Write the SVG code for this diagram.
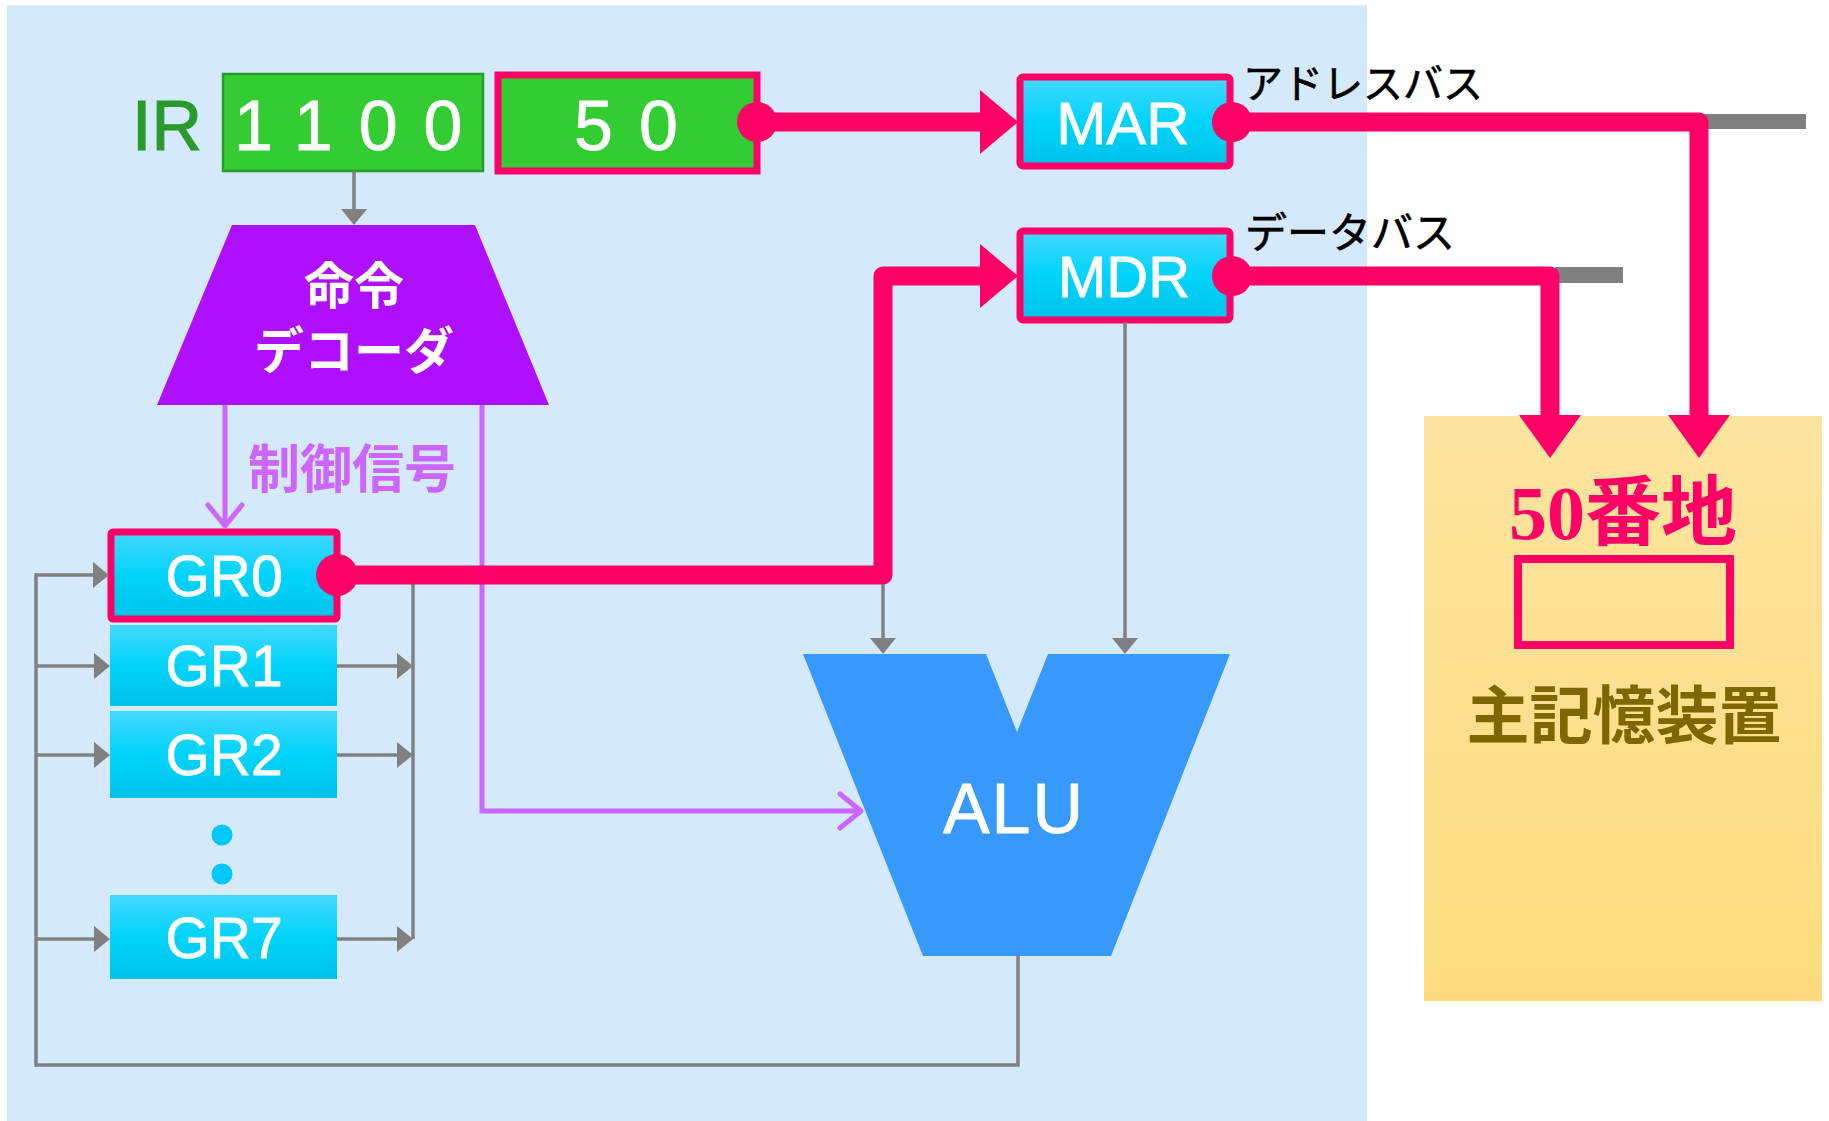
<svg xmlns="http://www.w3.org/2000/svg" width="1829" height="1121" viewBox="0 0 1829 1121">
<defs>
<linearGradient id="cyan" x1="0" y1="0" x2="0" y2="1">
<stop offset="0" stop-color="#45d8ff"/><stop offset="0.5" stop-color="#00d4fa"/><stop offset="1" stop-color="#00c2ea"/>
</linearGradient>
<linearGradient id="gold" x1="0" y1="0" x2="0" y2="1">
<stop offset="0" stop-color="#fde49f"/><stop offset="1" stop-color="#fddb7d"/>
</linearGradient>
<marker id="ga" viewBox="0 0 16 26" refX="0" refY="13" markerWidth="16" markerHeight="26" markerUnits="userSpaceOnUse" orient="auto"><path d="M0,0 L16,13 L0,26 z" fill="#808080"/></marker>
<marker id="ra" viewBox="0 0 38 64" refX="0" refY="32" markerWidth="38" markerHeight="64" markerUnits="userSpaceOnUse" orient="auto"><path d="M0,0 L38,32 L0,64 z" fill="#ff0066"/></marker>
<marker id="rd" viewBox="0 0 43 62" refX="0" refY="31" markerWidth="43" markerHeight="62" markerUnits="userSpaceOnUse" orient="auto"><path d="M0,0 L43,31 L0,62 z" fill="#ff0066"/></marker>
<marker id="pa" viewBox="-26 -22 30 44" refX="0" refY="0" markerWidth="30" markerHeight="44" markerUnits="userSpaceOnUse" orient="auto"><path d="M-21,-17 L0,0 L-21,17" fill="none" stroke="#cc66ff" stroke-width="5" stroke-linecap="round" stroke-linejoin="round"/></marker>
</defs>
<style>
.lat{font-family:"Liberation Sans",Arial,sans-serif;fill:#fff;stroke:#fff;stroke-width:0.8}
.jp{font-family:"Noto Sans CJK JP",sans-serif}
.reg{fill:url(#cyan)}
.red{stroke:#ff0066;stroke-width:7}
.gl{fill:none;stroke:#808080;stroke-width:3.5}
.rl{fill:none;stroke:#ff0066;stroke-width:19;stroke-linejoin:round}
.pl{fill:none;stroke:#cc66ff;stroke-width:5}
.dot{fill:#ff0066}
</style>
<rect id="bg" x="7" y="5" width="1360" height="1116" fill="#d5e9fc"/>

<g id="ir">
<text x="132" y="150" font-size="70" style="font-family:'Liberation Sans',Arial,sans-serif" fill="#2a9a2a" stroke="#2a9a2a" stroke-width="1.2">IR</text>
</g>
<g id="ir-op">
<rect x="223" y="74" width="260" height="97" fill="#33cc33" stroke="#2a9a2a" stroke-width="2.5"/>
<text class="lat" x="234" y="150" font-size="70" letter-spacing="26">1100</text>
</g>
<g id="ir-addr">
<rect x="498" y="75" width="259" height="96" fill="#33cc33" class="red"/>
<text class="lat" x="574" y="150" font-size="70" letter-spacing="26">50</text>
</g>

<g id="decoder">
<polygon points="232,225 475,225 549,405 157,405" fill="#ae10ff"/>
<text class="jp" x="354" y="304" font-size="50" font-weight="bold" fill="#fff" text-anchor="middle">命令</text>
<text class="jp" x="354" y="369" font-size="50" font-weight="bold" fill="#fff" text-anchor="middle">デコーダ</text>
</g>
<g id="ctrl-label">
<text class="jp" x="352" y="488" font-size="52" font-weight="bold" fill="#cc66ff" text-anchor="middle">制御信号</text>
</g>

<g id="mar">
<rect x="1020" y="77" width="210" height="89" rx="3" class="reg red"/>
<text class="lat" x="1123" y="144" font-size="60" text-anchor="middle">MAR</text>
</g>
<g id="mdr">
<rect x="1020" y="231" width="210" height="89" rx="3" class="reg red"/>
<text class="lat" x="1124" y="297" font-size="58" text-anchor="middle">MDR</text>
</g>

<g id="gr0">
<rect x="111" y="532" width="226" height="87" rx="2" class="reg red"/>
<text class="lat" x="224" y="596" font-size="57" text-anchor="middle">GR0</text>
</g>
<g id="gr1">
<rect x="110" y="625" width="227" height="81" class="reg"/>
<text class="lat" x="224" y="686" font-size="57" text-anchor="middle">GR1</text>
</g>
<g id="gr2">
<rect x="110" y="711" width="227" height="87" class="reg"/>
<text class="lat" x="224" y="775" font-size="57" text-anchor="middle">GR2</text>
</g>
<g id="gr-dots">
<circle cx="222" cy="835" r="10.5" fill="#00c8f8"/>
<circle cx="222" cy="874" r="10.5" fill="#00c8f8"/>
</g>
<g id="gr7">
<rect x="110" y="895" width="227" height="84" class="reg"/>
<text class="lat" x="224" y="958" font-size="57" text-anchor="middle">GR7</text>
</g>

<g id="alu">
<polygon points="803,654 986,654 1017,732 1048,654 1230,654 1111,956 923,956" fill="#3899fc"/>
<text class="lat" x="1014" y="833" font-size="70" text-anchor="middle" letter-spacing="2">ALU</text>
</g>

<g id="memory">
<rect x="1424" y="416" width="398" height="585" fill="url(#gold)"/>
<text x="1623" y="539" font-size="76" font-weight="bold" fill="#ff0066" text-anchor="middle" style="font-family:'Liberation Serif','Noto Sans CJK JP',serif">50番地</text>
<rect x="1518" y="559" width="212" height="86" fill="none" stroke="#ff0066" stroke-width="8"/>
<text class="jp" x="1624" y="738" font-size="63" font-weight="bold" fill="#806600" text-anchor="middle">主記憶装置</text>
</g>

<g id="bus-labels">
<text class="jp" x="1243" y="98" font-size="40" fill="#000" stroke="#000" stroke-width="0.6">アドレスバス</text>
<text class="jp" x="1245" y="248" font-size="42" fill="#000" stroke="#000" stroke-width="0.6">データバス</text>
</g>

<g id="connectors">
<path class="gl" d="M354 171 V209" marker-end="url(#ga)"/>
<path class="gl" d="M1018 956 V1065 H36 V575 H93" marker-end="url(#ga)"/>
<path class="gl" d="M36 666 H94" marker-end="url(#ga)"/>
<path class="gl" d="M36 755 H94" marker-end="url(#ga)"/>
<path class="gl" d="M36 939 H94" marker-end="url(#ga)"/>
<path class="gl" d="M413 580 V939"/>
<path class="gl" d="M337 666 H397" marker-end="url(#ga)"/>
<path class="gl" d="M337 755 H397" marker-end="url(#ga)"/>
<path class="gl" d="M337 939 H397" marker-end="url(#ga)"/>
<path class="gl" d="M883 584 V638" marker-end="url(#ga)"/>
<path class="gl" d="M1125 322 V638" marker-end="url(#ga)"/>
<path class="pl" d="M225 405 V526" marker-end="url(#pa)"/>
<path class="pl" d="M482 405 V811 H861" marker-end="url(#pa)"/>
<rect x="1700" y="114" width="106" height="15" fill="#808080"/>
<rect x="1555" y="267" width="68" height="16" fill="#808080"/>
<path class="rl" d="M757 122 H980" marker-end="url(#ra)"/>
<path class="rl" d="M1232 122 H1699 V415" marker-end="url(#rd)"/>
<path class="rl" d="M1232 276 H1550 V415" marker-end="url(#rd)"/>
<path class="rl" d="M337 575 H883 V276 H980" marker-end="url(#ra)"/>
<circle class="dot" cx="757" cy="122" r="20"/>
<circle class="dot" cx="1232" cy="122" r="20"/>
<circle class="dot" cx="1232" cy="276" r="20"/>
<circle class="dot" cx="337" cy="575" r="21"/>
</g>
</svg>
